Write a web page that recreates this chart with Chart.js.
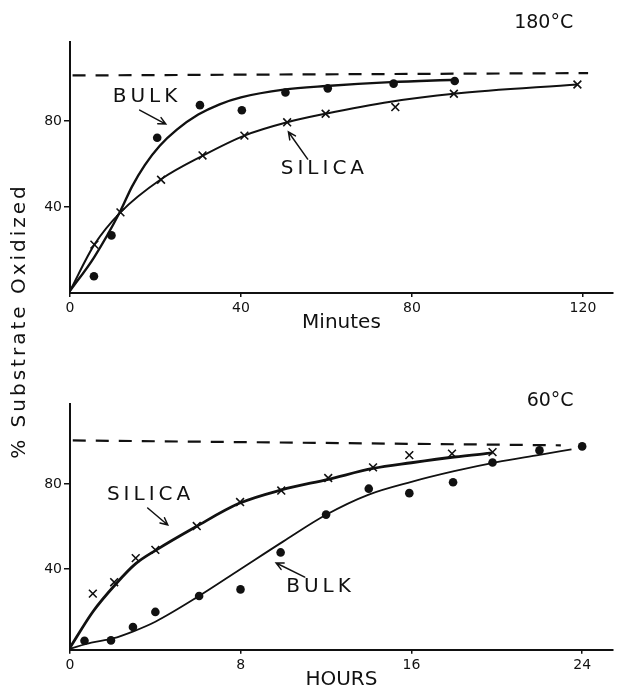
<!DOCTYPE html>
<html>
<head>
<meta charset="utf-8">
<script src="https://cdn.jsdelivr.net/npm/chart.js@4.4.1/dist/chart.umd.min.js"></script>
<style>
  body { margin: 0; background: #fff; width: 620px; height: 690px; position: relative; overflow: hidden; font-family: "DejaVu Sans", sans-serif; }
  canvas { position: absolute; left: 0; }
  #c180 { top: 0; }
  #c60 { top: 345px; }
  #ytitle { position: absolute; left: -142px; top: 309px; width: 320px; text-align: center; font-size: 20px; line-height: 24px;
    letter-spacing: 3px; transform: rotate(-90deg); color: #111; white-space: nowrap; }
</style>
</head>
<body>
<canvas id="c180" width="620" height="345"></canvas>
<canvas id="c60" width="620" height="345"></canvas>
<div id="ytitle">% Substrate Oxidized</div>
<script>
const INK = "#111";
const FAMILY = '"DejaVu Sans", sans-serif';

// ---- 180°C, minutes ----
const minuteTicks = [0, 40, 80, 120];
const pctTicks = [40, 80];
const bulk180Min = [5.6, 9.7, 20.4, 30.4, 40.2, 50.4, 60.3, 75.7, 90];
const bulk180Pct = [7.8, 26.8, 72.2, 87.4, 85, 93.3, 95.2, 97.4, 98.6];
const silica180Min = [5.7, 11.8, 21.3, 31, 40.8, 50.8, 59.8, 76.1, 89.8, 118.7];
const silica180Pct = [22.5, 37.5, 52.7, 64, 73.2, 79.4, 83.4, 86.5, 92.7, 97];
// fitted curves
const bulk180CurveMin = [0, 5.6, 11.7, 14.5, 17.5, 21, 25, 30, 35, 40, 50, 60, 75, 90];
const bulk180CurvePct = [1, 16.5, 37.8, 49.5, 59.5, 68.5, 76, 83, 87.8, 91, 94.6, 96.3, 98.1, 99.2];
const silica180CurveMin = [0, 5.7, 11.8, 21.3, 31, 40.8, 50.8, 59.8, 75, 89.8, 118.7];
const silica180CurvePct = [1, 22.5, 37.5, 52.9, 63.8, 73.2, 79.4, 83.4, 89, 92.7, 97];
const limit180Min = [0.6, 121.2];
const limit180Pct = [101.2, 102.3];

// ---- 60°C, hours ----
const hourTicks = [0, 8, 16, 24];
const bulk60Hr = [0.68, 1.92, 2.95, 4.0, 6.05, 7.99, 9.87, 12.0, 14.0, 15.9, 17.95, 19.8, 22.0, 24.0];
const bulk60Pct = [6.2, 6.4, 12.7, 19.8, 27.3, 30.4, 47.8, 65.6, 77.8, 75.7, 80.8, 90.1, 95.8, 97.7];
const silica60Hr = [1.07, 2.07, 3.08, 4.0, 5.94, 7.97, 9.9, 12.1, 14.2, 15.9, 17.9, 19.8];
const silica60Pct = [28.4, 33.8, 45.1, 49, 60.2, 71.5, 76.9, 82.8, 87.8, 93.6, 94.3, 95];
const bulk60CurveHr = [0, 1, 2, 3, 4, 6, 8, 10, 12, 14, 16, 18, 20, 22, 23.5];
const bulk60CurvePct = [2.5, 5.3, 7.3, 10.8, 15.2, 27, 40, 53, 65.5, 75, 81, 86, 90.3, 93.7, 96.3];
const silica60CurveHr = [0, 1.08, 2.18, 3.08, 4.03, 5.9, 7.93, 9.9, 12.1, 14.2, 16, 18, 19.8];
const silica60CurvePct = [3, 20, 33.3, 42.5, 48.9, 59.9, 70.9, 77.2, 82.2, 87.3, 90, 92.7, 94.6];
const limit60Hr = [0.13, 23.0];
const limit60Pct = [100.5, 98.2];

// labels and pointer arrows, in data units: [x, y]
const labels180 = [
  { text: "BULK", at: [10.0, 91.2] },
  { text: "SILICA", at: [49.3, 57.7] },
  { text: "180°C", at: [103.9, 125.6], gap: 0 },
];
const arrows180 = [[16.3, 85.1, 22.4, 78.6], [55.6, 62.3, 51.1, 74.9]];
const labels60 = [
  { text: "SILICA", at: [1.73, 74.8] },
  { text: "BULK", at: [10.13, 31.5] },
  { text: "60°C", at: [21.4, 119], gap: 0 },
];
const arrows60 = [[3.64, 68.7, 4.58, 60.7], [11.0, 36.2, 9.66, 42.8]];

const pts = (xs, ys) => xs.map((v, i) => ({ x: v, y: ys[i] }));

const notes = {
  id: "notes",
  afterDatasetsDraw(chart, args, opts) {
    const { ctx, scales: { x, y } } = chart;
    ctx.save();
    ctx.strokeStyle = INK; ctx.fillStyle = INK; ctx.lineWidth = 1.5; ctx.lineCap = "round";
    (opts.arrows || []).forEach(a => {
      const x0 = x.getPixelForValue(a[0]), y0 = y.getPixelForValue(a[1]);
      const x1 = x.getPixelForValue(a[2]), y1 = y.getPixelForValue(a[3]);
      const ang = Math.atan2(y1 - y0, x1 - x0);
      ctx.beginPath();
      ctx.moveTo(x0, y0); ctx.lineTo(x1, y1);
      ctx.moveTo(x1 - 8 * Math.cos(ang - 0.45), y1 - 8 * Math.sin(ang - 0.45));
      ctx.lineTo(x1, y1);
      ctx.lineTo(x1 - 8 * Math.cos(ang + 0.45), y1 - 8 * Math.sin(ang + 0.45));
      ctx.stroke();
    });
    (opts.labels || []).forEach(l => {
      ctx.font = (l.gap === undefined ? 20 : 19) + "px " + FAMILY;
      ctx.letterSpacing = (l.gap === undefined ? 4 : l.gap) + "px";
      ctx.textBaseline = "middle"; ctx.textAlign = "left";
      ctx.fillText(l.text, x.getPixelForValue(l.at[0]), y.getPixelForValue(l.at[1]));
    });
    ctx.restore();
  }
};

function panel(id, o) {
  const curve = (data, w) => ({ data, showLine: true, borderColor: INK, borderWidth: w, pointRadius: 0,
    cubicInterpolationMode: "monotone", fill: false });
  return new Chart(document.getElementById(id), {
    type: "line",
    data: {
      datasets: [
        { data: o.bulk, showLine: false, pointStyle: "circle", pointRadius: 4.3, backgroundColor: INK, borderColor: INK, borderWidth: 0 },
        { data: o.silica, showLine: false, pointStyle: "crossRot", pointRadius: 5.5, borderColor: INK, borderWidth: 1.6 },
        curve(o.bulkCurve, o.bulkW),
        curve(o.silicaCurve, o.silicaW),
        { data: o.limit, showLine: true, borderColor: INK, borderWidth: 2.2, borderDash: [13, 10], pointRadius: 0 },
      ]
    },
    options: {
      responsive: false, animation: false, events: [],
      layout: { padding: { top: o.padTop, right: o.padRight, left: 0, bottom: 0 } },
      plugins: { legend: { display: false }, tooltip: { enabled: false }, notes: { labels: o.labels, arrows: o.arrows } },
      scales: {
        x: {
          type: "linear", min: 0, max: o.xMax,
          afterBuildTicks: s => { s.ticks = o.xTicks.map(v => ({ value: v })); },
          afterFit: s => { s.height = o.xH; },
          border: { color: INK, width: 2 },
          grid: { drawOnChartArea: false, tickLength: 4, color: INK, lineWidth: 1.5 },
          ticks: { color: INK, font: { size: 14, family: FAMILY }, padding: 3, maxRotation: 0, autoSkip: false },
          title: { display: true, text: o.xTitle, color: INK, font: { size: 20, family: FAMILY, lineHeight: 1 }, padding: { top: 0, bottom: o.titlePad } }
        },
        y: {
          type: "linear", min: o.yMin, max: o.yMax,
          afterBuildTicks: s => { s.ticks = pctTicks.map(v => ({ value: v })); },
          afterFit: s => { s.width = 70; },
          border: { color: INK, width: 2 },
          grid: { drawOnChartArea: false, tickLength: 6, color: INK, lineWidth: 1.5 },
          ticks: { color: INK, font: { size: 14, family: FAMILY }, padding: 2 }
        }
      }
    },
    plugins: [notes]
  });
}

panel("c180", {
  bulk: pts(bulk180Min, bulk180Pct), silica: pts(silica180Min, silica180Pct),
  bulkCurve: pts(bulk180CurveMin, bulk180CurvePct), silicaCurve: pts(silica180CurveMin, silica180CurvePct),
  limit: pts(limit180Min, limit180Pct), bulkW: 2.4, silicaW: 2,
  labels: labels180, arrows: arrows180,
  xTicks: minuteTicks, xMax: 127, yMin: 0, yMax: 117, padTop: 41.5, padRight: 6, xH: 52,
  xTitle: "Minutes", titlePad: 12
});

panel("c60", {
  bulk: pts(bulk60Hr, bulk60Pct), silica: pts(silica60Hr, silica60Pct),
  bulkCurve: pts(bulk60CurveHr, bulk60CurvePct), silicaCurve: pts(silica60CurveHr, silica60CurvePct),
  limit: pts(limit60Hr, limit60Pct), bulkW: 1.8, silicaW: 2.8,
  labels: labels60, arrows: arrows60,
  xTicks: hourTicks, xMax: 25.44, yMin: 2, yMax: 117.5, padTop: 59.3, padRight: 5, xH: 40.25,
  xTitle: "HOURS", titlePad: 0
});
</script>
</body>
</html>
